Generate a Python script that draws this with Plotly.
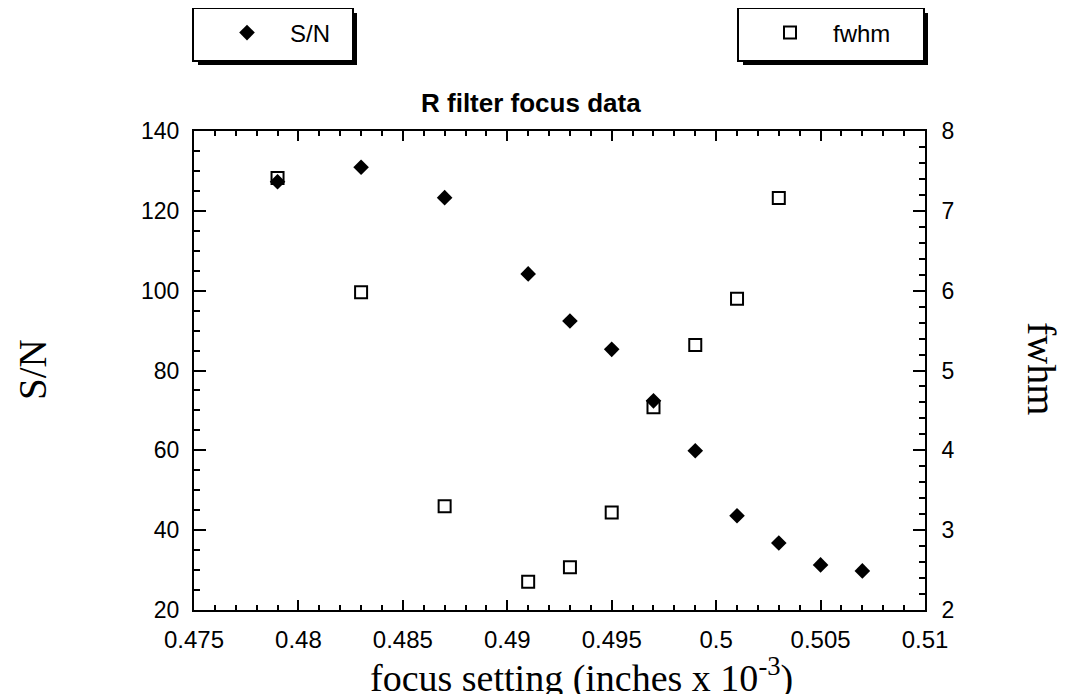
import plotly.graph_objects as go

# Data
focus_sn = [0.479, 0.483, 0.487, 0.491, 0.493, 0.495, 0.497, 0.499, 0.501, 0.503, 0.505, 0.507]
sn_values = [127.3, 130.9, 123.3, 104.2, 92.4, 85.3, 72.4, 59.9, 43.6, 36.8, 31.3, 29.8]

focus_fwhm = [0.479, 0.483, 0.487, 0.491, 0.493, 0.495, 0.497, 0.499, 0.501, 0.503]
fwhm_values = [7.41, 5.98, 3.30, 2.355, 2.535, 3.22, 4.54, 5.32, 5.90, 7.16]

title_text = "R filter focus data"
x_title = "focus setting (inches x 10<sup>-3</sup>)"
y_title = "S/N"
y2_title = "fwhm"

OFF = 8  # page body margin
W, H = 1076 - OFF, 694 - OFF
# plot area in screen pixels: x 194..925, y 131..610
L, T = 194 - OFF, 131 - OFF
R, B = W - (925 - OFF), H - (610 - OFF)
PW, PH = W - L - R, H - T - B


def px(x):
    return (x - OFF - L) / PW


def py(y):
    return (H - B - (y - OFF)) / PH


fig = go.Figure()
fig.add_trace(go.Scatter(
    x=focus_sn, y=sn_values, mode="markers", name="S/N",
    marker=dict(symbol="diamond", size=12, color="black", line=dict(width=0)),
    legend="legend", yaxis="y",
))
fig.add_trace(go.Scatter(
    x=focus_fwhm, y=fwhm_values, mode="markers", name="fwhm",
    marker=dict(symbol="square-open", size=12, color="black", line=dict(width=2)),
    legend="legend2", yaxis="y2",
))

sans = "Arial, Liberation Sans, sans-serif"
serif = "Times New Roman, Liberation Serif, serif"
xtickfont = dict(family=sans, size=24, color="black")
ytickfont = dict(family=sans, size=23, color="black")

shapes = []
for (x0, y0, x1, y1) in [(193, 8, 353, 61), (738, 8, 924, 61)]:
    # drop shadow
    shapes.append(dict(type="rect", xref="paper", yref="paper",
                       x0=px(x0 + 5), x1=px(x1 + 4), y0=py(y1 + 4), y1=py(y0 + 5),
                       fillcolor="black", line=dict(width=0)))
    shapes.append(dict(type="rect", xref="paper", yref="paper",
                       x0=px(x0), x1=px(x1), y0=py(y1), y1=py(y0),
                       fillcolor="white", line=dict(color="black", width=2)))

legend_font = dict(family=sans, size=24, color="black")
fig.update_layout(
    width=W, height=H,
    margin=dict(l=L, r=R, t=T, b=B, pad=0, autoexpand=False),
    paper_bgcolor="white", plot_bgcolor="white",
    showlegend=True,
    shapes=shapes,
    legend=dict(x=px(247 - 43), y=py(33), xanchor="left", yanchor="middle",
                bgcolor="rgba(0,0,0,0)", borderwidth=0, itemwidth=76,
                font=legend_font),
    legend2=dict(x=px(790 - 43), y=py(33), xanchor="left", yanchor="middle",
                 bgcolor="rgba(0,0,0,0)", borderwidth=0, itemwidth=76,
                 font=legend_font),
    xaxis=dict(
        range=[0.475, 0.51], dtick=0.005, tick0=0.475,
        ticks="inside", ticklen=10, tickwidth=1.5, tickcolor="black",
        minor=dict(dtick=0.001, ticks="inside", ticklen=5, tickwidth=1.5, tickcolor="black"),
        showline=True, linewidth=2, linecolor="black", mirror="ticks",
        showgrid=False, zeroline=False, tickfont=xtickfont, ticklabelstandoff=7,
    ),
    yaxis=dict(
        range=[20, 140], dtick=20, tick0=20,
        ticks="inside", ticklen=12, tickwidth=1.5, tickcolor="black",
        minor=dict(dtick=5, ticks="inside", ticklen=6, tickwidth=1.5, tickcolor="black"),
        showline=True, linewidth=2, linecolor="black",
        showgrid=False, zeroline=False, tickfont=ytickfont, ticklabelstandoff=8,
    ),
    yaxis2=dict(
        range=[2, 8], dtick=1, tick0=2, overlaying="y", side="right",
        ticks="inside", ticklen=12, tickwidth=1.5, tickcolor="black",
        minor=dict(dtick=0.2, ticks="inside", ticklen=6, tickwidth=1.5, tickcolor="black"),
        showline=True, linewidth=2, linecolor="black",
        showgrid=False, zeroline=False, tickfont=ytickfont, ticklabelstandoff=10,
    ),
    annotations=[
        dict(text="<b>" + title_text + "</b>", xref="paper", yref="paper",
             x=px(531), y=py(103), xanchor="center", yanchor="middle", showarrow=False,
             font=dict(family=sans, size=26, color="black")),
        dict(text=x_title, xref="paper", yref="paper",
             x=px(581), y=py(675), xanchor="center", yanchor="middle", showarrow=False,
             font=dict(family=serif, size=38, color="black")),
        dict(text=y_title, xref="paper", yref="paper", textangle=-90,
             x=px(32), y=py(370), xanchor="center", yanchor="middle", showarrow=False,
             font=dict(family=serif, size=39, color="black")),
        dict(text=y2_title, xref="paper", yref="paper", textangle=90,
             x=px(1042), y=py(368), xanchor="center", yanchor="middle", showarrow=False,
             font=dict(family=serif, size=40, color="black")),
    ],
)

fig.write_html("out.html")
